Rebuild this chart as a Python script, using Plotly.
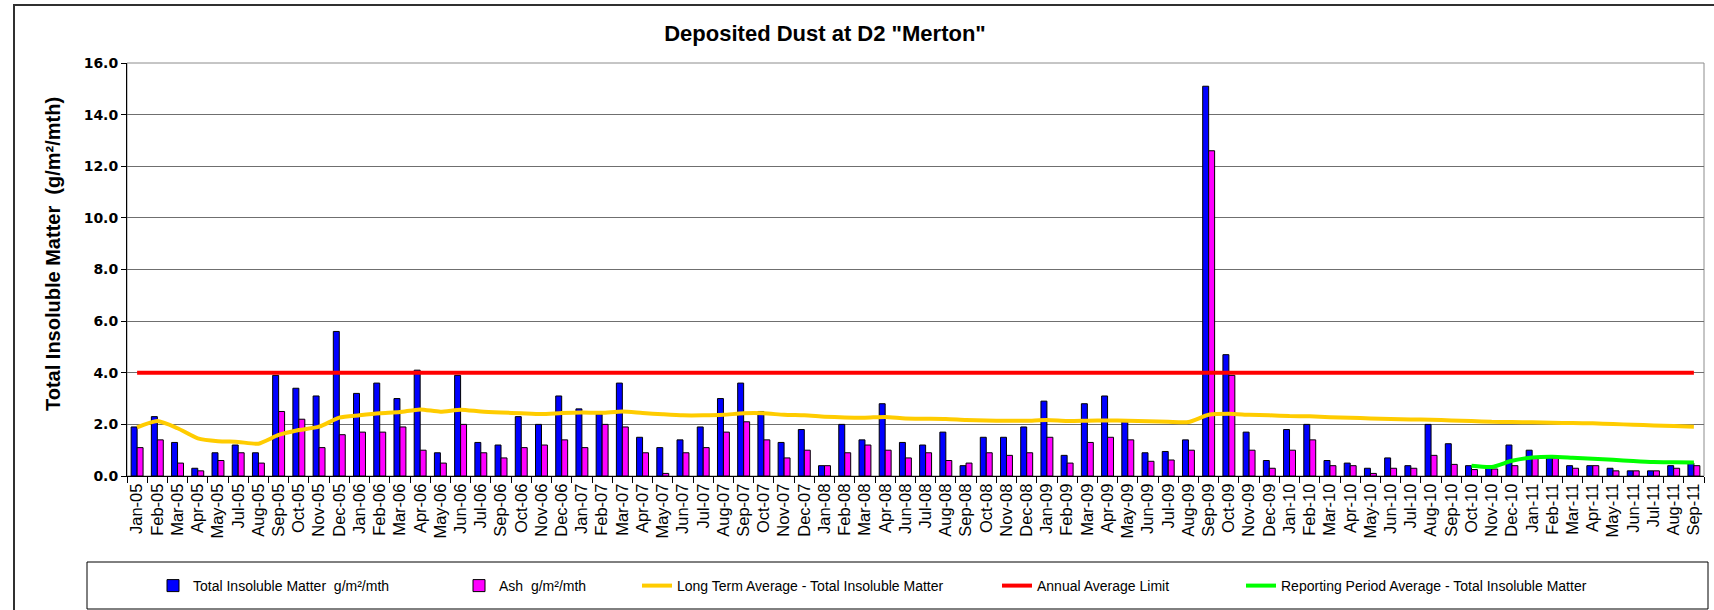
import plotly.graph_objects as go

# sampling months (some months have no sample: Jun-05, Aug-06, May-08)
months = [
    'Jan-05', 'Feb-05', 'Mar-05', 'Apr-05', 'May-05', 'Jul-05', 'Aug-05', 'Sep-05', 'Oct-05', 'Nov-05', 'Dec-05',
    'Jan-06', 'Feb-06', 'Mar-06', 'Apr-06', 'May-06', 'Jun-06', 'Jul-06', 'Sep-06', 'Oct-06', 'Nov-06', 'Dec-06',
    'Jan-07', 'Feb-07', 'Mar-07', 'Apr-07', 'May-07', 'Jun-07', 'Jul-07', 'Aug-07', 'Sep-07', 'Oct-07', 'Nov-07', 'Dec-07',
    'Jan-08', 'Feb-08', 'Mar-08', 'Apr-08', 'Jun-08', 'Jul-08', 'Aug-08', 'Sep-08', 'Oct-08', 'Nov-08', 'Dec-08',
    'Jan-09', 'Feb-09', 'Mar-09', 'Apr-09', 'May-09', 'Jun-09', 'Jul-09', 'Aug-09', 'Sep-09', 'Oct-09', 'Nov-09', 'Dec-09',
    'Jan-10', 'Feb-10', 'Mar-10', 'Apr-10', 'May-10', 'Jun-10', 'Jul-10', 'Aug-10', 'Sep-10', 'Oct-10', 'Nov-10', 'Dec-10',
    'Jan-11', 'Feb-11', 'Mar-11', 'Apr-11', 'May-11', 'Jun-11', 'Jul-11', 'Aug-11', 'Sep-11',
]

# Total Insoluble Matter g/m2/mth
tim = [
    1.9, 2.3, 1.3, 0.3, 0.9, 1.2, 0.9, 3.9, 3.4, 3.1, 5.6,
    3.2, 3.6, 3.0, 4.1, 0.9, 3.9, 1.3, 1.2, 2.3, 2.0, 3.1,
    2.6, 2.4, 3.6, 1.5, 1.1, 1.4, 1.9, 3.0, 3.6, 2.5, 1.3, 1.8,
    0.4, 2.0, 1.4, 2.8, 1.3, 1.2, 1.7, 0.4, 1.5, 1.5, 1.9,
    2.9, 0.8, 2.8, 3.1, 2.1, 0.9, 0.95, 1.4, 15.1, 4.7, 1.7, 0.6,
    1.8, 2.0, 0.6, 0.5, 0.3, 0.7, 0.4, 2.0, 1.25, 0.4, 0.3, 1.2,
    1.0, 0.7, 0.4, 0.4, 0.3, 0.2, 0.2, 0.4, 0.5,
]

# Ash g/m2/mth
ash = [
    1.1, 1.4, 0.5, 0.2, 0.6, 0.9, 0.5, 2.5, 2.2, 1.1, 1.6,
    1.7, 1.7, 1.9, 1.0, 0.5, 2.0, 0.9, 0.7, 1.1, 1.2, 1.4,
    1.1, 2.0, 1.9, 0.9, 0.1, 0.9, 1.1, 1.7, 2.1, 1.4, 0.7, 1.0,
    0.4, 0.9, 1.2, 1.0, 0.7, 0.9, 0.6, 0.5, 0.9, 0.8, 0.9,
    1.5, 0.5, 1.3, 1.5, 1.4, 0.57, 0.62, 1.0, 12.6, 3.9, 1.0, 0.3,
    1.0, 1.4, 0.4, 0.4, 0.1, 0.3, 0.3, 0.8, 0.45, 0.25, 0.27, 0.4,
    0.7, 0.7, 0.3, 0.4, 0.2, 0.2, 0.2, 0.3, 0.4,
]

# long term average - total insoluble matter
long_term_avg = [
    1.88, 2.13, 1.85, 1.46, 1.35, 1.32, 1.25, 1.59, 1.78, 1.91, 2.26,
    2.35, 2.43, 2.48, 2.58, 2.49, 2.57, 2.50, 2.46, 2.43, 2.40, 2.44,
    2.46, 2.45, 2.50, 2.44, 2.39, 2.35, 2.35, 2.37, 2.43, 2.43, 2.37, 2.35,
    2.30, 2.27, 2.26, 2.29, 2.23, 2.22, 2.21, 2.17, 2.15, 2.14, 2.14,
    2.17, 2.13, 2.14, 2.15, 2.14, 2.12, 2.10, 2.09, 2.37, 2.41, 2.37, 2.35,
    2.32, 2.31, 2.28, 2.26, 2.23, 2.21, 2.19, 2.18, 2.15, 2.13, 2.10, 2.09,
    2.08, 2.06, 2.05, 2.04, 2.01, 1.99, 1.96, 1.94, 1.91,
]

annual_limit = 4.0

# reporting period average (Oct-10 to Sep-11)
rp_months = ['Oct-10', 'Nov-10', 'Dec-10', 'Jan-11', 'Feb-11', 'Mar-11',
             'Apr-11', 'May-11', 'Jun-11', 'Jul-11', 'Aug-11', 'Sep-11']
rp_avg = [0.40, 0.35, 0.59, 0.72, 0.75, 0.71, 0.67, 0.63, 0.58, 0.54, 0.53, 0.52]

W, H = 1714, 610
L, R, T, B = 127, 10, 63, 134
PW, PH = W - L - R, H - T - B
FONT = 'Arial, "Liberation Sans", sans-serif'
WIDE_BOLD = '"DejaVu Sans", Verdana, sans-serif'


def px_x(x):
    # pixel -> paper x
    return (x - L) / PW


def px_y(y):
    # pixel -> paper y
    return (H - B - y) / PH


fig = go.Figure()
fig.add_trace(go.Bar(
    x=months, y=tim, name='Total Insoluble Matter  g/m²/mth',
    marker=dict(color='#0000FF', line=dict(color='black', width=1)),
    legend='legend'))
fig.add_trace(go.Bar(
    x=months, y=ash, name='Ash  g/m²/mth',
    marker=dict(color='#FF00FF', line=dict(color='black', width=1)),
    legend='legend2'))
fig.add_trace(go.Scatter(
    x=months, y=long_term_avg, mode='lines',
    name='Long Term Average - Total Insoluble Matter',
    line=dict(color='#FFCC00', width=4, shape='spline', smoothing=0.6),
    legend='legend3'))
fig.add_trace(go.Scatter(
    x=[months[0], months[-1]], y=[annual_limit, annual_limit], mode='lines',
    name='Annual Average Limit',
    line=dict(color='#FF0000', width=4),
    legend='legend4'))
fig.add_trace(go.Scatter(
    x=rp_months, y=rp_avg, mode='lines',
    name='Reporting Period Average - Total Insoluble Matter',
    line=dict(color='#00FF00', width=4, shape='spline', smoothing=0.6),
    legend='legend5'))

# one legend per entry so the spacing follows the original
leg_common = dict(orientation='h', xref='container', yref='container',
                  yanchor='middle', y=1 - 586 / H, xanchor='left',
                  font=dict(family=FONT, size=14, color='black'),
                  bgcolor='rgba(0,0,0,0)', borderwidth=0)
legend_x = [153, 459, 637, 997, 1241]
legend_layout = {}
for i, lx in enumerate(legend_x):
    key = 'legend' if i == 0 else 'legend%d' % (i + 1)
    legend_layout[key] = dict(leg_common, x=lx / W)

fig.update_layout(
    template='none',
    width=W, height=H,
    margin=dict(l=L, r=R, t=T, b=B, autoexpand=False),
    paper_bgcolor='white', plot_bgcolor='white',
    font=dict(family=FONT, color='black'),
    title=dict(text='<b>Deposited Dust at D2 "Merton"</b>',
               font=dict(family=FONT, size=22, color='black'),
               x=825 / W, xref='container', xanchor='center',
               y=1 - 33 / H, yref='container', yanchor='middle'),
    barmode='group', bargap=0.41, bargroupgap=0,
    showlegend=True,
    **legend_layout,
)

fig.update_xaxes(
    type='category', categoryorder='array', categoryarray=months,
    tickangle=-90, tickfont=dict(family=FONT, size=16.5, color='black'),
    ticks='outside', tickson='boundaries', ticklen=6, tickcolor='black',
    showline=True, linecolor='black', linewidth=1,
    showgrid=False, zeroline=False, automargin=False,
)
fig.update_yaxes(
    range=[0, 16], dtick=2, tickformat='.1f',
    tickfont=dict(family=WIDE_BOLD, size=14, color='black', weight='bold'),
    ticks='outside', ticklen=5, tickcolor='black',
    showline=True, linecolor='black', linewidth=1,
    showgrid=True, gridcolor='#6f6f6f', gridwidth=1, zeroline=False,
    automargin=False,
)

# y axis title sits a little above the plot centre in the original
fig.add_annotation(
    text='<b>Total Insoluble Matter  (g/m²/mth)</b>', textangle=-90,
    xref='paper', yref='paper', x=px_x(53), y=px_y(254),
    xanchor='center', yanchor='middle', showarrow=False,
    font=dict(family=FONT, size=20, color='black'))

# plot area border, legend box and outer chart frame
fig.add_shape(type='rect', xref='paper', yref='paper', x0=0, x1=1, y0=0, y1=1,
              line=dict(color='#8c8c8c', width=1), layer='below')
fig.add_shape(type='rect', xref='paper', yref='paper',
              x0=px_x(87), x1=px_x(1708), y0=px_y(609), y1=px_y(562),
              line=dict(color='black', width=1))
fig.add_shape(type='rect', xref='paper', yref='paper',
              x0=px_x(14), x1=px_x(1725), y0=px_y(640), y1=px_y(5),
              line=dict(color='#303030', width=2))

# drop the default page margin so the chart sits at the window origin
fig.write_html('out.html', config={'displayModeBar': False},
               post_script="document.body.style.margin='0px';")
